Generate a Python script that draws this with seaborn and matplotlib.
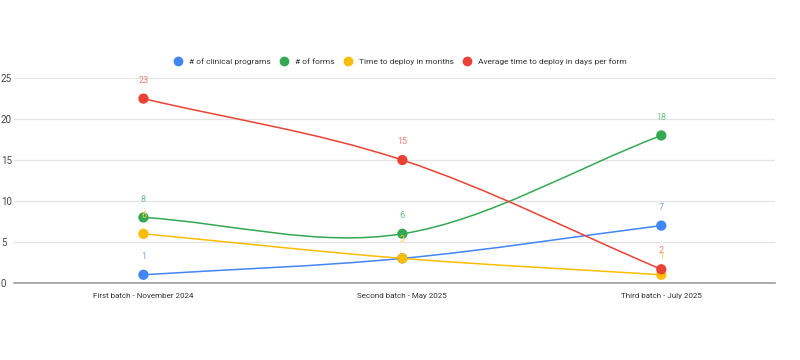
import numpy as np
import pandas as pd
import matplotlib
matplotlib.use("Agg")
import matplotlib.pyplot as plt
from matplotlib.path import Path
from matplotlib.patches import PathPatch
from matplotlib.lines import Line2D
import seaborn as sns

# data
batches = ["First batch - November 2024", "Second batch - May 2025", "Third batch - July 2025"]
clinical_programs = [1, 3, 7]
forms = [8, 6, 18]
months_to_deploy = [6, 3, 1]
days_per_form = [22.5, 15, 1.67]
series_names = ["# of clinical programs", "# of forms", "Time to deploy in months",
                "Average time to deploy in days per form"]
# which points carry a value label (Google hides overlapping ones)
show_labels = [[True, False, True], [True, True, True], [True, True, True], [True, True, True]]

colors = ["#4285F4", "#34A853", "#FBBC04", "#EA4335"]
label_colors = ["#7BAAF7", "#6CC287", "#FBC94A", "#F07B72"]

sns.set_theme(style="white")
plt.rcParams["font.family"] = ["Roboto", "DejaVu Sans"]

df = pd.DataFrame({
    "batch": batches * 4,
    "x": list(range(len(batches))) * 4,
    "value": clinical_programs + forms + months_to_deploy + days_per_form,
    "series": [s for s in series_names for _ in batches],
})

fig = plt.figure(figsize=(8, 3.6), dpi=100)
ax = fig.add_axes([0.0175, 0.214, 0.9515, 0.569])


def smooth_path(xs, ys):
    # cubic bezier through the points, tangent from neighbours (like curveType 'function')
    xs = np.asarray(xs, float)
    ys = np.asarray(ys, float)
    n = len(xs)
    tx = np.zeros(n)
    ty = np.zeros(n)
    for i in range(n):
        a = max(i - 1, 0)
        b = min(i + 1, n - 1)
        tx[i] = (xs[b] - xs[a]) / (b - a) if b != a else 0
        ty[i] = (ys[b] - ys[a]) / (b - a) if b != a else 0
    verts = [(xs[0], ys[0])]
    codes = [Path.MOVETO]
    for i in range(n - 1):
        verts += [(xs[i] + tx[i] / 3, ys[i] + ty[i] / 3),
                  (xs[i + 1] - tx[i + 1] / 3, ys[i + 1] - ty[i + 1] / 3),
                  (xs[i + 1], ys[i + 1])]
        codes += [Path.CURVE4] * 3
    return Path(verts, codes)


for name, col in zip(series_names, colors):
    sub = df[df["series"] == name]
    ax.add_patch(PathPatch(smooth_path(sub["x"], sub["value"]), facecolor="none",
                           edgecolor=col, lw=1.1, zorder=3))

sns.scatterplot(data=df, x="x", y="value", hue="series", palette=colors,
                s=55, edgecolor=None, linewidth=0, ax=ax, legend=False, zorder=4)

for k, (name, lc) in enumerate(zip(series_names, label_colors)):
    sub = df[df["series"] == name]
    for j, (xv, yv) in enumerate(zip(sub["x"], sub["value"])):
        if show_labels[k][j]:
            ax.annotate(str(int(yv + 0.5)), (xv, yv), xytext=(0, 10), textcoords="offset points",
                        ha="center", va="bottom", fontsize=6.5, color=lc, zorder=5 - k * 0.1)

ax.set_xlim(-0.5, 2.44)
ax.set_ylim(0, 25)
ax.set_yticks([0, 5, 10, 15, 20, 25])
ax.set_xticks(range(len(batches)))
ax.set_xticklabels(batches)
ax.set_xlabel("")
ax.set_ylabel("")
ax.yaxis.grid(True, color="#E3E3E3", lw=0.9)
ax.set_axisbelow(True)
for s in ["top", "right", "left"]:
    ax.spines[s].set_visible(False)
ax.spines["bottom"].set_color("#9E9E9E")
ax.spines["bottom"].set_linewidth(1.2)
ax.tick_params(axis="x", length=4, color="#D0D0D0", labelsize=5.8, labelcolor="#333333", pad=3)
ax.tick_params(axis="y", length=0, labelsize=7, labelcolor="#444444", pad=9.5)
for t in ax.get_yticklabels():
    t.set_horizontalalignment("left")

handles = [Line2D([], [], marker="o", ls="none", color=c, markersize=6) for c in colors]
fig.legend(handles, series_names, loc="center", bbox_to_anchor=(0.498, 0.83), ncol=4,
           frameon=False, fontsize=6.0, handletextpad=0.3, columnspacing=0.6,
           labelcolor="#333333")

fig.savefig("out.png", dpi=100, facecolor="white")
